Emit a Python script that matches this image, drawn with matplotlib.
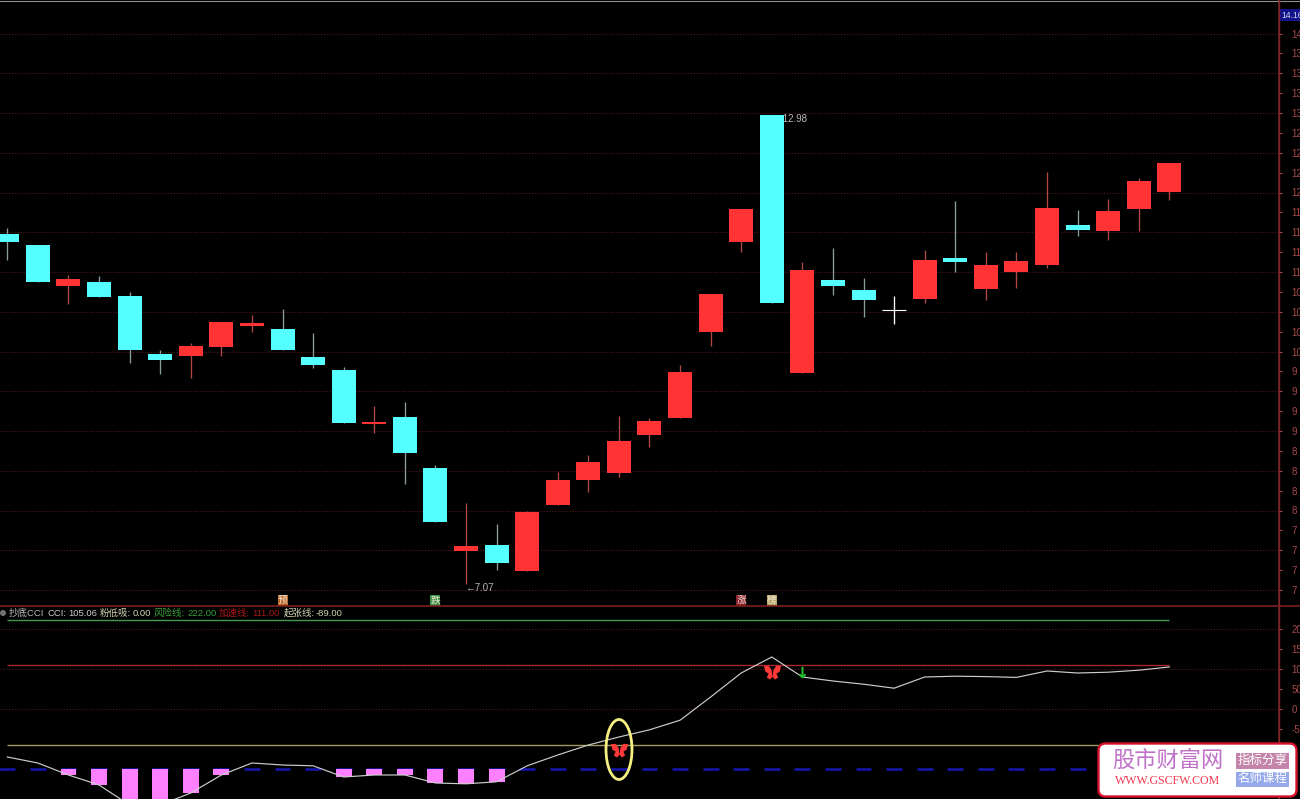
import matplotlib
matplotlib.use("Agg")
import numpy as np
import matplotlib.pyplot as plt
from matplotlib.patches import Ellipse, FancyBboxPatch, Rectangle, Circle
from matplotlib.path import Path

plt.rcParams['font.family'] = ['Liberation Sans', 'Noto Sans CJK SC', 'DejaVu Sans']

# ---------- data ----------
opens = [11.48,11.34,10.83,10.88,10.70,9.97,9.94,10.06,10.32,10.28,9.93,9.77,9.09,9.18,8.53,7.49,7.56,7.24,8.07,8.38,
         8.47,8.95,9.16,10.25,11.38,12.98,9.73,10.90,10.77,10.52,10.66,11.17,10.78,11.00,11.09,11.59,11.52,11.79,12.01]
closes = [11.38,10.88,10.91,10.68,10.02,9.89,10.07,10.37,10.36,10.02,9.83,9.10,9.11,8.72,7.85,7.55,7.34,7.98,8.38,8.61,
          8.88,9.12,9.74,10.72,11.79,10.61,11.03,10.83,10.65,10.52,11.15,11.12,11.09,11.14,11.80,11.53,11.77,12.14,12.37]
highs = [11.55,11.34,10.96,10.95,10.75,10.02,10.11,10.37,10.46,10.53,10.23,9.81,9.31,9.36,8.57,8.10,7.83,8.00,8.48,8.70,
         9.19,9.16,9.83,10.72,11.79,12.98,11.13,11.30,10.93,10.70,11.28,11.89,11.25,11.25,12.26,11.78,11.92,12.18,12.37]
lows = [11.15,10.88,10.60,10.68,9.86,9.72,9.67,9.94,10.25,10.02,9.79,9.10,8.97,8.33,7.85,7.07,7.25,7.24,8.07,8.23,
        8.42,8.80,9.16,10.07,11.25,10.61,9.73,10.71,10.43,10.35,10.61,11.00,10.65,10.80,11.05,11.45,11.40,11.52,11.91]
cci = [-120,-135,-165,-190,-240,-240,-210,-165,-135,-140,-142,-170,-165,-165,-185,-187,-182,-142,-115,-90,
       -70,-52,-28,30,90,130,80,70,62,52,80,82,81,79,95,90,92,97,105.06]
risk_line = 222.0
accel_line = 111.0
rise_line = -89.0
base_line = -150.0
price_ticks = [14.0,13.75,13.5,13.25,13.0,12.75,12.5,12.25,12.0,11.75,11.5,11.25,11.0,10.75,10.5,10.25,10.0,
               9.75,9.5,9.25,9.0,8.75,8.5,8.25,8.0,7.75,7.5,7.25,7.0]
price_labels = ['14','13','13','13','13','12','12','12','12','11','11','11','11','10','10','10','10',
                '9','9','9','9','8','8','8','8','7','7','7','7']
price_grid = [14,13.5,13,12.5,12,11.5,11,10.5,10,9.5,9,8.5,8,7.5,7]
cci_ticks = [200,150,100,50,0,-50]
cci_labels = ['20','15','10','50','0','-5']
cci_grid = [200,100,0]
butterfly_idx = [20,25]
butterfly_val = [-102,92]
arrow_idx = [26]
arrow_val = [92]
signal_idx = [9,14,24,25]
signal_txt = ['预','跌','涨','榜']
signal_col = ['#b86428','#3a8f45','#8a2030','#b8a468']
legend_txt = ['抄底CCI','CCI:','105.06','粉低吸:','0.00','风险线:','222.00','加速线:','111.00','起张线:','-89.00']
legend_col = ['#b8b8b8','#c8c8c8','#c8c8c8','#d0d0b0','#d0d0b0','#38a038','#38a038','#a81818','#a81818','#d0d0b0','#d0d0b0']
legend_x = [9,47,68,100,133,154,187,219,252,284,316]

W, H = 1300, 799
N = len(opens)
idx = np.arange(N)
X0, DX = 7.3, 30.58   # pixel position of first candle, pixel step
AX_R = 1279
SPLIT = 606
RED, CYAN = '#ff3333', '#55ffff'
DARK = '#7a2626'
TICK = '#a84848'

fig = plt.figure(figsize=(W/100, H/100), dpi=100, facecolor='black')
xlim = (-X0/DX, (AX_R-X0)/DX)

def make_ax(top, bottom):
    ax = fig.add_axes([0, 1-bottom/H, AX_R/W, (bottom-top)/H], facecolor='black')
    ax.set_xlim(*xlim)
    ax.set_xticks([])
    ax.yaxis.tick_right()
    for s in ('left','top','bottom'):
        ax.spines[s].set_visible(False)
    ax.spines['right'].set_color(DARK)
    ax.spines['right'].set_linewidth(1.1)
    ax.tick_params(axis='y', length=2.2, width=0.8, color=TICK, labelcolor=TICK, labelsize=7, pad=7)
    return ax

# ---------- price panel ----------
ax = make_ax(0, SPLIT)
ax.set_ylim(14-(SPLIT-33.5)/79.5, 14+33.5/79.5)
ax.set_yticks(price_ticks, price_labels)
ax.hlines(price_grid, *xlim, color='#541818', lw=0.8, linestyles=(0,(1,1.6)), zorder=1)

ax.text(25+0.04, 12.925, '←12.98', color='#b8b8b8', fontsize=7, va='center', ha='left', zorder=2)
ax.text(15-0.03, 7.03, '←7.07', color='#b8b8b8', fontsize=7, va='center', ha='left', zorder=2)

for i in idx:
    o, c, h, l = opens[i], closes[i], highs[i], lows[i]
    if c == o:
        col, wick = 'white', 'white'
    elif c > o:
        col, wick = RED, '#b04848'
    else:
        col, wick = CYAN, '#8a9c9c'
    ax.vlines(i, l, h, color=wick, lw=0.95, zorder=3)
    if c == o:
        ax.hlines(c, i-0.39, i+0.39, color=col, lw=0.8, zorder=4)
    else:
        ax.bar(i, abs(c-o), bottom=min(o, c), width=0.785, color=col, lw=0, zorder=4)

# ---------- CCI panel ----------
bx = make_ax(SPLIT, H)
bx.set_ylim((709-H)/0.4, (709-SPLIT)/0.4)
bx.set_yticks(cci_ticks, cci_labels)
bx.hlines(cci_grid, *xlim, color='#541818', lw=0.8, linestyles=(0,(1,1.6)), zorder=1)

cci_arr = np.array(cci, dtype=float)
bx.hlines([base_line]*N, idx-0.26, idx+0.26, color='#1515a8', lw=1.9, zorder=2)
low_mask = cci_arr < base_line
bx.bar(idx[low_mask], cci_arr[low_mask]-base_line, bottom=base_line, width=0.52, color='#ff80ff', lw=0, zorder=3)
bx.hlines(risk_line, 0, N-1, color='#3f9a50', lw=1.0, zorder=4)
bx.hlines(accel_line, 0, N-1, color='#a82828', lw=1.0, zorder=4)
bx.hlines(rise_line, 0, N-1, color='#a09a60', lw=1.0, zorder=4)
bx.plot(idx, cci_arr, color='#cccccc', lw=0.85, zorder=5)

bf = Path([(0,-0.6),(-0.12,0.35),(-0.55,0.95),(-1.2,0.9),(-1.0,0.1),(-0.55,-0.15),(-0.8,-0.7),(-0.35,-1.0),
           (0,-0.6),(0.35,-1.0),(0.8,-0.7),(0.55,-0.15),(1.0,0.1),(1.2,0.9),(0.55,0.95),(0.12,0.35),(0,-0.6)])
bx.scatter(butterfly_idx, butterfly_val, marker=bf, s=150, color='#ff3838', lw=0, zorder=6)
bx.scatter(arrow_idx, arrow_val, marker=r'$\downarrow$', s=60, color='#20c030', lw=0.5, zorder=6)

# ---------- overlay in pixel coordinates ----------
ov = fig.add_axes([0, 0, 1, 1], facecolor='none')
ov.set_xlim(0, W)
ov.set_ylim(H, 0)
ov.axis('off')

ov.plot([0, W], [0.5, 0.5], color='#909090', lw=0.8)
ov.plot([0, W], [SPLIT, SPLIT], color='#7a1f1f', lw=1.2)
ov.plot([AX_R, AX_R], [0, H], color=DARK, lw=1.0)

ov.add_patch(Rectangle((1280, 9), 22, 12, fc='#12128c', ec='none'))
ov.text(1281, 15.5, '14.16', color='#d0d8f0', fontsize=6.2, va='center', ha='left')

for i, t, c in zip(signal_idx, signal_txt, signal_col):
    px = X0 + DX*i
    ov.add_patch(Rectangle((px-5, 595), 10, 10.5, fc=c, ec='none'))
    ov.text(px, 600, t, color='#f4e8d8', fontsize=7, va='center', ha='center')

ov.add_patch(Circle((3, 613), 3, fc='#707070', ec='none'))
for x, t, c in zip(legend_x, legend_txt, legend_col):
    ov.text(x, 613, t, color=c, fontsize=6.8, va='center', ha='left')

ov.add_patch(Ellipse((619, 749.5), 26, 60, fc='none', ec='#f6f080', lw=2.0, zorder=7))

# watermark badge
ov.add_patch(FancyBboxPatch((1101, 746), 193, 48, boxstyle='round,pad=2.5,rounding_size=7',
                            fc='white', ec='#d8102c', lw=1.7, zorder=8))
ov.text(1168, 761, '股市财富网', color='#c070c8', fontsize=16, va='center', ha='center', zorder=9)
ov.text(1167.5, 781.5, 'WWW.GSCFW.COM', color='#ee3a50', fontsize=8.6, va='center', ha='center',
        family=['Liberation Serif'], zorder=9)
ov.add_patch(Rectangle((1236, 753), 53, 16, fc='#c484aa', ec='none', zorder=9))
ov.text(1262.5, 760.7, '指标分享', color='white', fontsize=9, va='center', ha='center', zorder=10)
ov.add_patch(Rectangle((1236, 772), 53, 15, fc='#94a8ea', ec='none', zorder=9))
ov.text(1262.5, 779.2, '名师课程', color='white', fontsize=9, va='center', ha='center', zorder=10)

fig.savefig('out.png', dpi=100, facecolor='black')
